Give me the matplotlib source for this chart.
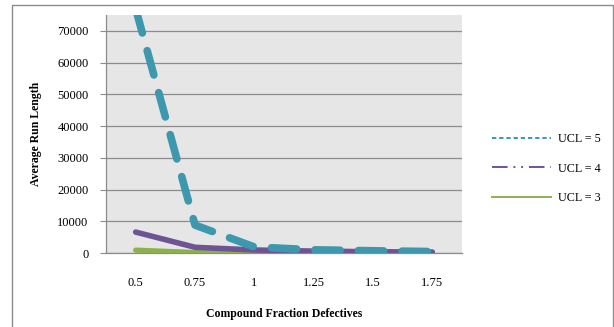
import matplotlib
matplotlib.use("Agg")
import matplotlib.pyplot as plt
from matplotlib.lines import Line2D
from matplotlib.patches import Rectangle

categories = ["0.5", "0.75", "1", "1.25", "1.5", "1.75"]
ucl5 = [77000, 8800, 1900, 1000, 700, 450]
ucl4 = [6600, 1800, 950, 600, 400, 300]
ucl3 = [900, 150, 60, 30, 20, 10]
series_labels = ["UCL = 5", "UCL = 4", "UCL = 3"]
yticks = [0, 10000, 20000, 30000, 40000, 50000, 60000, 70000]

W, H = 614, 327
fig = plt.figure(figsize=(W / 100, H / 100), dpi=100)
plt.rcParams['font.family'] = ['Liberation Serif', 'DejaVu Serif']

L, R, T, B = 106, 462, 15, 253
ax = fig.add_axes([L / W, 1 - B / H, (R - L) / W, (B - T) / H])
ax.set_facecolor('#E6E6E6')

teal = '#3D98AE'
purple = '#6E5494'
green = '#8DB04E'
x = list(range(len(categories)))

ax.plot(x, ucl3, color=green, lw=3.8, solid_capstyle='round', solid_joinstyle='round', zorder=3)
ax.plot(x, ucl4, color=purple, lw=4.0, solid_capstyle='round', solid_joinstyle='round', zorder=4)
ax.plot(x, ucl5, color=teal, lw=5.5, linestyle=(0, (3.3, 2.4)),
        dash_capstyle='round', dash_joinstyle='round', zorder=5)

ax.set_xlim(-0.5, len(categories) - 0.5)
ax.set_ylim(0, 75000)
ax.set_xticks(x)
ax.set_xticklabels(categories, fontsize=9)
ax.set_yticks(yticks)
ax.set_yticklabels([str(v) for v in yticks], fontsize=9)
ax.tick_params(axis='x', length=0, pad=17)
ax.tick_params(axis='y', length=4, color='#8C8C8C', pad=8.5)
ax.grid(axis='y', color='#8C8C8C', lw=0.9)
ax.set_axisbelow(True)
for s in ['top', 'right']:
    ax.spines[s].set_visible(False)
for s in ['left', 'bottom']:
    ax.spines[s].set_color('#8C8C8C')
    ax.spines[s].set_linewidth(0.9)

fig.text(284 / W, 1 - 314 / H, 'Compound Fraction Defectives', ha='center', va='center',
         fontsize=8.5, fontweight='bold')
fig.text(36 / W, 1 - 134 / H, 'Average Run Length', ha='center', va='center',
         rotation=90, fontsize=8.5, fontweight='bold')

handles = [
    Line2D([], [], color=teal, lw=1.4, linestyle=(0, (2.2, 1.5))),
    Line2D([], [], color=purple, lw=1.4, linestyle=(0, (8, 3, 1, 3, 1, 3))),
    Line2D([], [], color=green, lw=1.4),
]
fig.legend(handles, series_labels, loc='center left', bbox_to_anchor=(481 / W, 1 - 168.5 / H),
           frameon=False, fontsize=8.7, handlelength=4.9, handletextpad=0.55, labelspacing=1.45)

# outer chart border
fig.add_artist(Rectangle((12 / W, -0.05), (613 - 12) / W, (1 - 5 / H) + 0.05,
                         transform=fig.transFigure, fill=False, edgecolor='#8C8C8C', lw=1.0))

fig.savefig('out.png', dpi=100)
